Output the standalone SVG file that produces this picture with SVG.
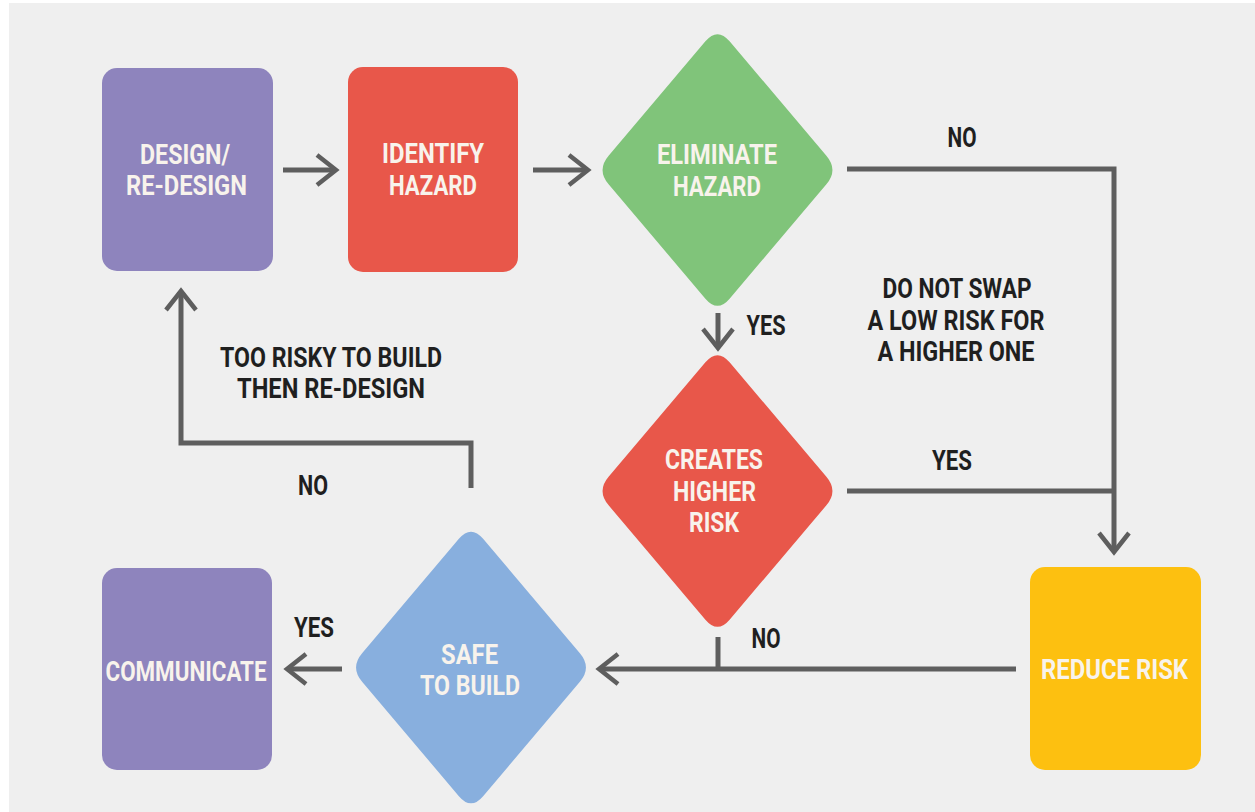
<svg xmlns="http://www.w3.org/2000/svg" width="1255" height="812" viewBox="0 0 1255 812">
  <defs>
    <style>
      .box-text { font-family: Roboto, "DejaVu Sans Condensed", "Liberation Sans", sans-serif; font-weight: 700; font-size: 27px; fill: #f8f3ec; text-anchor: middle; }
      .label { font-family: Roboto, "DejaVu Sans Condensed", "Liberation Sans", sans-serif; font-weight: 700; font-size: 27px; fill: #1f1f1f; text-anchor: middle; }
      .conn { fill: none; stroke: #5e5e5e; stroke-width: 5; stroke-linejoin: miter; }
      .purple { fill: #8e84bd; }
      .red { fill: #e8574a; }
      .green { fill: #80c47a; }
      .blue { fill: #88afde; }
      .yellow { fill: #fdc010; }
    </style>
    <!-- open chevron arrowhead, tip at the path end -->
    <marker id="chev" markerUnits="userSpaceOnUse" orient="auto" refX="0" refY="0" markerWidth="40" markerHeight="40" overflow="visible">
      <path d="M -19,-15 L 0,0 L -19,15" fill="none" stroke="#5e5e5e" stroke-width="4.5" stroke-linecap="butt" stroke-linejoin="miter"/>
    </marker>
    <!-- decision diamond with rounded corners, centred on the origin -->
    <path id="diamond" d="M -12.1,-128.7 Q 0,-143 12.1,-128.7 L 108.9,-14.3 Q 121,0 108.9,14.3 L 12.1,128.7 Q 0,143 -12.1,128.7 L -108.9,14.3 Q -121,0 -108.9,-14.3 Z"/>
  </defs>

  <!-- page -->
  <rect x="0" y="0" width="1255" height="812" fill="#ffffff"/>
  <rect x="9" y="3" width="1246" height="809" fill="#efefef"/>

  <!-- connectors -->
  <g id="connectors">
    <path class="conn" d="M 283,170 H 336" marker-end="url(#chev)"/>
    <path class="conn" d="M 533,170 H 588" marker-end="url(#chev)"/>
    <path class="conn" d="M 847,169 H 1114 V 552" marker-end="url(#chev)"/>
    <path class="conn" d="M 847,491 H 1114"/>
    <path class="conn" d="M 718,313 V 348" marker-end="url(#chev)"/>
    <path class="conn" d="M 1016,669 H 599" marker-end="url(#chev)"/>
    <path class="conn" d="M 718,637 V 669"/>
    <path class="conn" d="M 342,669 H 287" marker-end="url(#chev)"/>
    <path class="conn" d="M 471,488 V 443 H 181 V 291" marker-end="url(#chev)"/>
  </g>

  <!-- connector labels -->
  <g id="labels">
    <text class="label" x="962" y="147" textLength="29" lengthAdjust="spacingAndGlyphs">NO</text>
    <text class="label" x="766" y="335" textLength="39" lengthAdjust="spacingAndGlyphs">YES</text>
    <text class="label" x="957" y="298" textLength="149" lengthAdjust="spacingAndGlyphs">DO NOT SWAP</text>
    <text class="label" x="956" y="330" textLength="177" lengthAdjust="spacingAndGlyphs">A LOW RISK FOR</text>
    <text class="label" x="956" y="361" textLength="157" lengthAdjust="spacingAndGlyphs">A HIGHER ONE</text>
    <text class="label" x="952" y="470" textLength="40" lengthAdjust="spacingAndGlyphs">YES</text>
    <text class="label" x="331" y="367" textLength="222" lengthAdjust="spacingAndGlyphs">TOO RISKY TO BUILD</text>
    <text class="label" x="331" y="398" textLength="188" lengthAdjust="spacingAndGlyphs">THEN RE-DESIGN</text>
    <text class="label" x="313" y="495" textLength="30" lengthAdjust="spacingAndGlyphs">NO</text>
    <text class="label" x="314" y="637" textLength="40" lengthAdjust="spacingAndGlyphs">YES</text>
    <text class="label" x="766" y="648" textLength="29" lengthAdjust="spacingAndGlyphs">NO</text>
  </g>

  <!-- process steps -->
  <g id="design">
    <rect class="purple" x="102" y="68" width="171" height="203" rx="15"/>
    <text class="box-text" x="185" y="164" textLength="90" lengthAdjust="spacingAndGlyphs">DESIGN/</text>
    <text class="box-text" x="186.5" y="195" textLength="121" lengthAdjust="spacingAndGlyphs">RE-DESIGN</text>
  </g>

  <g id="identify-hazard">
    <rect class="red" x="348" y="67" width="170" height="205" rx="15"/>
    <text class="box-text" x="433" y="163" textLength="102" lengthAdjust="spacingAndGlyphs">IDENTIFY</text>
    <text class="box-text" x="433" y="195" textLength="88" lengthAdjust="spacingAndGlyphs">HAZARD</text>
  </g>

  <g id="eliminate-hazard">
    <use href="#diamond" class="green" transform="translate(717.5,170)"/>
    <text class="box-text" x="717" y="164" textLength="120" lengthAdjust="spacingAndGlyphs">ELIMINATE</text>
    <text class="box-text" x="717" y="196" textLength="88" lengthAdjust="spacingAndGlyphs">HAZARD</text>
  </g>

  <g id="creates-higher-risk">
    <use href="#diamond" class="red" transform="translate(717.5,491)"/>
    <text class="box-text" x="714" y="469" textLength="98" lengthAdjust="spacingAndGlyphs">CREATES</text>
    <text class="box-text" x="714.5" y="501" textLength="83" lengthAdjust="spacingAndGlyphs">HIGHER</text>
    <text class="box-text" x="714" y="532" textLength="50" lengthAdjust="spacingAndGlyphs">RISK</text>
  </g>

  <g id="reduce-risk">
    <rect class="yellow" x="1030" y="567" width="171" height="203" rx="15"/>
    <text class="box-text" x="1114.5" y="679" textLength="147" lengthAdjust="spacingAndGlyphs">REDUCE RISK</text>
  </g>

  <g id="safe-to-build">
    <use href="#diamond" class="blue" transform="translate(471,667.5)"/>
    <text class="box-text" x="469.5" y="664" textLength="57" lengthAdjust="spacingAndGlyphs">SAFE</text>
    <text class="box-text" x="470" y="695" textLength="100" lengthAdjust="spacingAndGlyphs">TO BUILD</text>
  </g>

  <g id="communicate">
    <rect class="purple" x="102" y="568" width="170" height="202" rx="15"/>
    <text class="box-text" x="186" y="681" textLength="161" lengthAdjust="spacingAndGlyphs">COMMUNICATE</text>
  </g>
</svg>
